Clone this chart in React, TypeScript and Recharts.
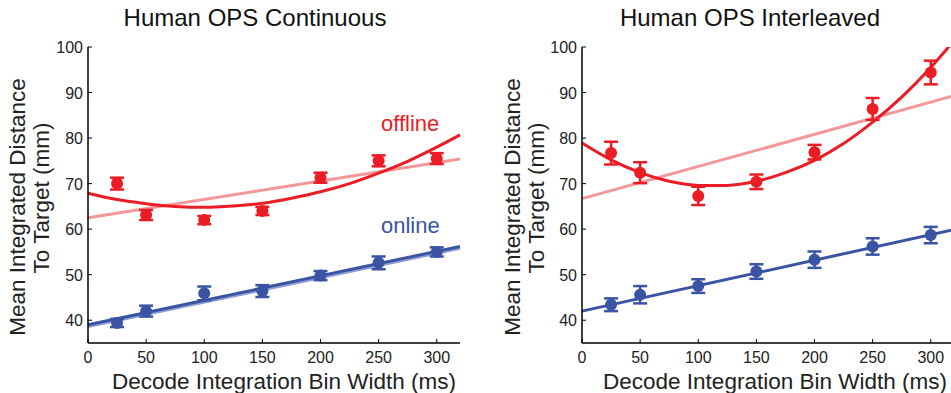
import { ComposedChart, Line, Scatter, ErrorBar, XAxis, YAxis } from "recharts"

const RED = "#ec1c24"
const PINK = "#f4979a"
const BLUE = "#3a53a4"
const LIGHT_BLUE = "#8d9dd3"
const FONT = "'Liberation Sans', Arial, Helvetica, sans-serif"

const binWidths = [25, 50, 100, 150, 200, 250, 300]
const xTicks = [0, 50, 100, 150, 200, 250, 300]
const yTicks = [40, 50, 60, 70, 80, 90, 100]

// Continuous
const contOffline = [70.0, 63.1, 62.0, 64.0, 71.3, 75.0, 75.5]
const contOfflineErr = [1.3, 1.1, 0.9, 0.9, 1.1, 1.2, 1.2]
const contOnline = [39.4, 42.0, 45.9, 46.4, 49.8, 52.6, 55.0]
const contOnlineErr = [0.9, 1.2, 1.5, 1.3, 1.0, 1.4, 1.0]

// Interleaved
const interOffline = [76.7, 72.4, 67.3, 70.4, 76.9, 86.4, 94.4]
const interOfflineErr = [2.5, 2.3, 2.0, 1.6, 1.6, 2.4, 2.6]
const interOnline = [43.4, 45.6, 47.5, 50.7, 53.3, 56.2, 58.7]
const interOnlineErr = [1.4, 1.9, 1.5, 1.6, 1.8, 1.8, 1.8]

// fit curves
const fitX = [0, 25, 50, 75, 100, 125, 150, 175, 200, 225, 250, 275, 300, 320]
const contOfflineQuad = [67.9, 66.5, 65.6, 65.0, 64.8, 65.1, 65.7, 66.8, 68.2, 70.0, 72.3, 74.9, 78.0, 80.7]
const interOfflineQuad = [78.9, 75.2, 72.4, 70.5, 69.6, 69.6, 70.5, 72.4, 75.1, 78.8, 83.5, 89.0, 95.5, 101.4]

const lineX = [0, 320]
const contOfflineLin = [62.5, 75.4]
const contOnlineLin = [39.0, 56.2]
const contOnlineLin2 = [38.6, 55.8]
const interOfflineLin = [66.7, 89.3]
const interOnlineLin = [42.0, 59.9]

const pts = (xs: number[], ys: number[], err?: number[]) =>
    xs.map((x, i) => ({ x, y: ys[i], err: err ? err[i] : 0 }))

const Dot = (color: string) => (props: any) => <circle cx={props.cx} cy={props.cy} r={6} fill={color} />

const XTick = (props: any) => {
    const { x, y, payload } = props
    return (
        <g>
            <line x1={x} x2={x} y1={y - 9} y2={y - 13} stroke="#000" strokeWidth={1} />
            <text x={x} y={y} dy={11} textAnchor="middle" fontSize={16} fill="#222" fontFamily={FONT}>
                {payload.value}
            </text>
        </g>
    )
}

const YTick = (props: any) => {
    const { x, y, payload } = props
    return (
        <g>
            <line x1={x + 5} x2={x + 9} y1={y} y2={y} stroke="#000" strokeWidth={1} />
            <text x={x} y={y} dy={6} textAnchor="end" fontSize={16} fill="#222" fontFamily={FONT}>
                {payload.value}
            </text>
        </g>
    )
}

type PanelProps = {
    left: number
    width: number
    yAxisWidth: number
    marginRight: number
    yLabelX: number
    xLabelX: number
    offline: number[]
    offlineErr: number[]
    online: number[]
    onlineErr: number[]
    quad: number[]
    offLin: number[]
    onLin: number[]
    onLin2?: number[]
}

function Panel(p: PanelProps) {
    return (
        <div style={{ position: "absolute", left: p.left, top: 0 }}>
            <ComposedChart width={p.width} height={393} margin={{ top: 47, right: p.marginRight, bottom: 0, left: 0 }}>
                <XAxis
                    type="number"
                    dataKey="x"
                    domain={[0, 320]}
                    ticks={xTicks}
                    tickSize={0}
                    tickMargin={9}
                    tick={<XTick />}
                    height={50}
                    stroke="#000"
                    strokeWidth={1.5}
                    label={{
                        content: () => (
                            <text x={p.xLabelX} y={389} textAnchor="middle" fontSize={22.5} fill="#222" fontFamily={FONT}>
                                Decode Integration Bin Width (ms)
                            </text>
                        ),
                    }}
                />
                <YAxis
                    type="number"
                    domain={[35, 100]}
                    ticks={yTicks}
                    allowDataOverflow
                    tickSize={0}
                    tickMargin={5}
                    tick={<YTick />}
                    width={p.yAxisWidth}
                    stroke="#000"
                    strokeWidth={1.5}
                    label={{
                        content: () => (
                            <g fontSize={22.5} fill="#222" fontFamily={FONT} textAnchor="middle">
                                <text transform={`translate(${p.yLabelX},207) rotate(-90)`}>Mean Integrated Distance</text>
                                <text transform={`translate(${p.yLabelX + 24},198) rotate(-90)`}>To Target (mm)</text>
                            </g>
                        ),
                    }}
                />
                <Line data={pts(lineX, p.offLin)} dataKey="y" stroke={PINK} strokeWidth={3} dot={false} isAnimationActive={false} />
                {p.onLin2 && (
                    <Line data={pts(lineX, p.onLin2)} dataKey="y" stroke={LIGHT_BLUE} strokeWidth={3} dot={false} isAnimationActive={false} />
                )}
                <Line data={pts(lineX, p.onLin)} dataKey="y" stroke={BLUE} strokeWidth={3} dot={false} isAnimationActive={false} />
                <Line data={pts(fitX, p.quad)} dataKey="y" type="monotone" stroke={RED} strokeWidth={3} dot={false} isAnimationActive={false} />
                <Scatter data={pts(binWidths, p.offline, p.offlineErr)} dataKey="y" shape={Dot(RED)} isAnimationActive={false}>
                    <ErrorBar dataKey="err" direction="y" width={7} strokeWidth={2.5} stroke={RED} isAnimationActive={false} />
                </Scatter>
                <Scatter data={pts(binWidths, p.online, p.onlineErr)} dataKey="y" shape={Dot(BLUE)} isAnimationActive={false}>
                    <ErrorBar dataKey="err" direction="y" width={7} strokeWidth={2.5} stroke={BLUE} isAnimationActive={false} />
                </Scatter>
            </ComposedChart>
        </div>
    )
}

export default function App() {
    return (
        <div style={{ position: "absolute", left: 0, top: 0, width: 951, height: 393, overflow: "hidden", background: "#fff", fontFamily: FONT }}>
            <Panel
                left={0}
                width={480}
                yAxisWidth={88}
                marginRight={20}
                yLabelX={25}
                xLabelX={284}
                offline={contOffline}
                offlineErr={contOfflineErr}
                online={contOnline}
                onlineErr={contOnlineErr}
                quad={contOfflineQuad}
                offLin={contOfflineLin}
                onLin={contOnlineLin}
                onLin2={contOnlineLin2}
            />
            <Panel
                left={490}
                width={490}
                yAxisWidth={92}
                marginRight={26}
                yLabelX={30}
                xLabelX={285}
                offline={interOffline}
                offlineErr={interOfflineErr}
                online={interOnline}
                onlineErr={interOnlineErr}
                quad={interOfflineQuad}
                offLin={interOfflineLin}
                onLin={interOnlineLin}
            />
            <div style={{ position: "absolute", left: 0, width: 510, top: 4, textAlign: "center", fontSize: 24, color: "#111" }}>
                Human OPS Continuous
            </div>
            <div style={{ position: "absolute", left: 495, width: 510, top: 4, textAlign: "center", fontSize: 24, color: "#111" }}>
                Human OPS Interleaved
            </div>
            <div style={{ position: "absolute", left: 381, top: 111, fontSize: 22, color: RED }}>offline</div>
            <div style={{ position: "absolute", left: 381, top: 213, fontSize: 22, color: BLUE }}>online</div>
        </div>
    )
}
